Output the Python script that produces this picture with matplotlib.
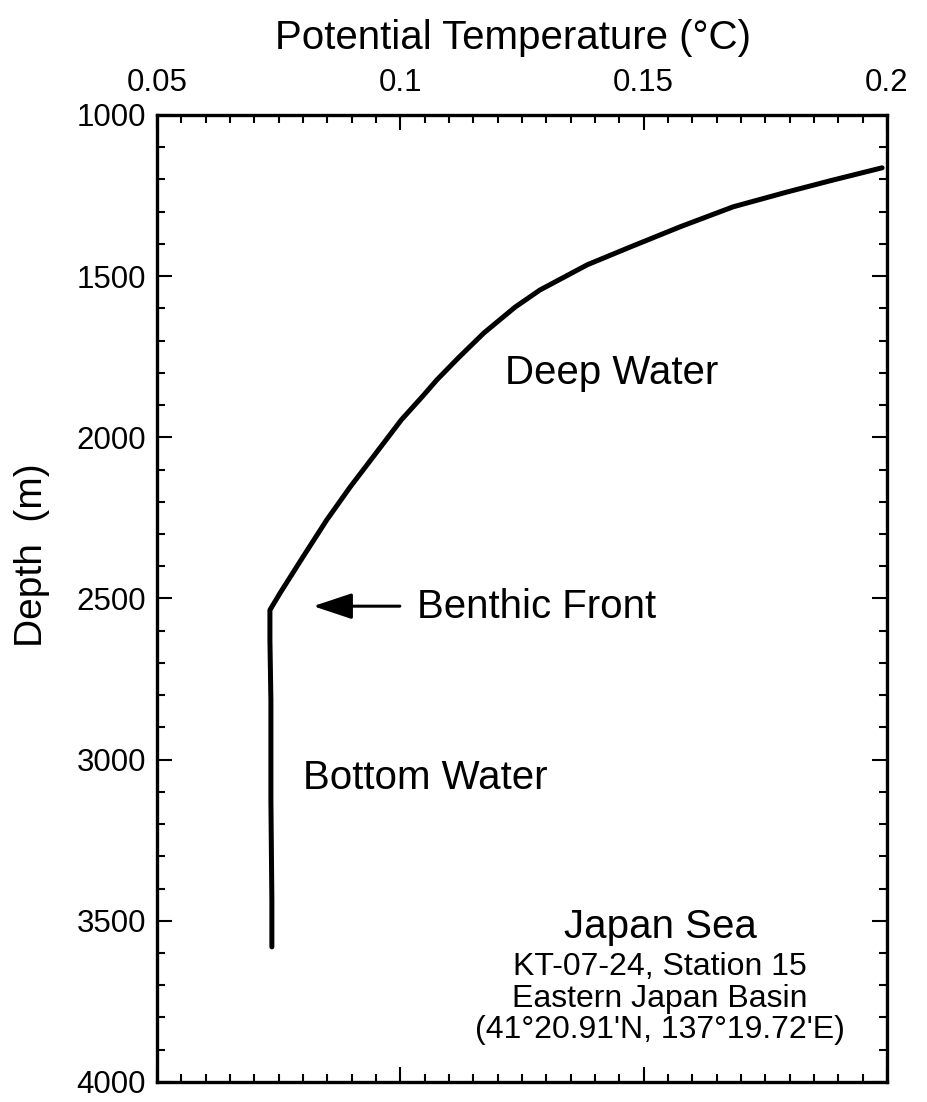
import numpy as np
import matplotlib
matplotlib.use('Agg')
import matplotlib.pyplot as plt
from matplotlib.ticker import MultipleLocator

plt.rcParams['font.family'] = ['Liberation Sans', 'DejaVu Sans']

# potential temperature (deg C) vs depth (m)
temp = [0.1990, 0.1889, 0.1795, 0.1684, 0.1575, 0.1472, 0.1384, 0.1287, 0.1236,
        0.1172, 0.1121, 0.1075, 0.1048, 0.1002, 0.0944, 0.0897, 0.0849, 0.0800,
        0.0753, 0.0732, 0.0732, 0.0734, 0.0734, 0.0736, 0.0736]
depth = [1164, 1202, 1239, 1285, 1347, 1410, 1465, 1543, 1596,
         1676, 1751, 1822, 1869, 1946, 2061, 2154, 2256, 2371,
         2483, 2536, 2629, 2815, 3125, 3435, 3581]

xticks = [0.05, 0.1, 0.15, 0.2]
xticklabels = ['0.05', '0.1', '0.15', '0.2']
yticks = [1000, 1500, 2000, 2500, 3000, 3500, 4000]

fig = plt.figure(figsize=(9.28, 11.02), dpi=100)
ax = fig.add_axes([0.1692, 0.0182, 0.7866, 0.8775])

ax.plot(temp, depth, color='black', lw=3.6, solid_capstyle='round', solid_joinstyle='round')

ax.set_xlim(0.05, 0.2)
ax.set_ylim(4000, 1000)
ax.set_xticks(xticks)
ax.set_xticklabels(xticklabels)
ax.set_yticks(yticks)
ax.xaxis.set_minor_locator(MultipleLocator(0.005))
ax.yaxis.set_minor_locator(MultipleLocator(100))
ax.xaxis.tick_top()
ax.xaxis.set_label_position('top')
ax.tick_params(which='both', direction='in', top=True, bottom=True, left=True, right=True, width=1.5)
ax.tick_params(which='major', length=11, labelsize=22.5)
ax.tick_params(which='minor', length=6)
ax.tick_params(axis='x', pad=12)
ax.tick_params(axis='y', pad=8)
for s in ax.spines.values():
    s.set_linewidth(2.4)

ax.set_xlabel('Potential Temperature (°C)', fontsize=29)
ax.xaxis.set_label_coords(0.487, 1.060)
ax.xaxis.label.set_va('bottom')
ax.set_ylabel('Depth  (m)', fontsize=28)
ax.yaxis.set_label_coords(-0.147, 0.545)

ax.text(0.1215, 1835, 'Deep Water', fontsize=29)
ax.text(0.1034, 2561, 'Benthic Front', fontsize=29)
ax.text(0.0800, 3091, 'Bottom Water', fontsize=29)
ax.annotate('', xy=(0.0821, 2524), xytext=(0.0999, 2524),
            arrowprops=dict(arrowstyle='-|>,head_length=1.2,head_width=0.4',
                            mutation_scale=20, lw=2.2, color='black',
                            shrinkA=0, shrinkB=0))

ax.text(0.1534, 3553, 'Japan Sea', fontsize=29, ha='center')
ax.text(0.1534, 3668, 'KT-07-24, Station 15', fontsize=23, ha='center')
ax.text(0.1534, 3768, 'Eastern Japan Basin', fontsize=23, ha='center')
ax.text(0.1534, 3864, "(41°20.91'N, 137°19.72'E)", fontsize=23, ha='center')

fig.savefig('out.png', dpi=100)
